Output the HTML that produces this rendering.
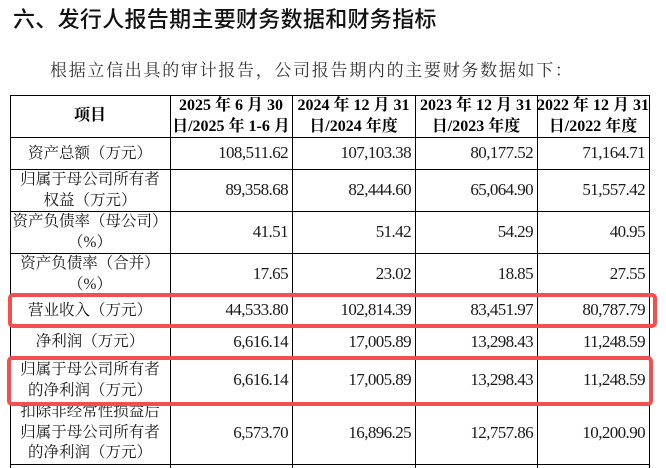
<!DOCTYPE html>
<html>
<head>
<meta charset="utf-8">
<style>
  html,body{margin:0;padding:0;background:#fff;}
  body{width:666px;height:468px;position:relative;overflow:hidden;}
  .title{position:absolute;left:13px;top:9px;font-family:"Liberation Sans","Noto Sans CJK SC",sans-serif;font-size:22px;line-height:22px;font-weight:500;color:#111;white-space:nowrap;letter-spacing:0.3px;}
  .sub{position:absolute;left:50px;top:62px;font-family:"Liberation Serif","Noto Serif CJK SC",serif;font-size:17px;line-height:17px;color:#333;white-space:nowrap;letter-spacing:1.7px;}
  .h{position:absolute;left:10px;width:640px;height:1px;background:#000;}
  .v{position:absolute;top:95px;width:1px;height:373px;background:#000;}
  .c{position:absolute;display:flex;align-items:center;justify-content:center;text-align:center;font-family:"Liberation Serif","Noto Serif CJK SC",serif;color:#1a1a1a;white-space:nowrap;box-sizing:border-box;}
  .lab{font-size:15.5px;line-height:21px;}
  .hd{font-size:16px;line-height:21.5px;font-weight:bold;color:#000;}
  .n{justify-content:flex-end;font-size:17px;letter-spacing:-0.6px;padding-right:4px;}
  .red{position:absolute;border:4.5px solid #f24f4f;border-radius:5px;box-sizing:border-box;}
</style>
</head>
<body>
<div class="title">六、发行人报告期主要财务数据和财务指标</div>
<div class="sub">根据立信出具的审计报告，公司报告期内的主要财务数据如下：</div>

<!-- horizontal lines -->
<div class="h" style="top:95px"></div>
<div class="h" style="top:137px"></div>
<div class="h" style="top:169px"></div>
<div class="h" style="top:211px"></div>
<div class="h" style="top:253px"></div>
<div class="h" style="top:295px"></div>
<div class="h" style="top:325px"></div>
<div class="h" style="top:358px"></div>
<div class="h" style="top:402px"></div>
<div class="h" style="top:464px"></div>
<!-- vertical lines -->
<div class="v" style="left:10px"></div>
<div class="v" style="left:170px"></div>
<div class="v" style="left:292px"></div>
<div class="v" style="left:415px"></div>
<div class="v" style="left:537px"></div>
<div class="v" style="left:649px"></div>

<!-- header -->
<div class="c hd" style="left:10px;top:95px;width:160px;height:42px;">项目</div>
<div class="c hd" style="left:170px;top:95px;width:122px;height:42px;">2025 年 6 月 30<br>日/2025 年 1-6 月</div>
<div class="c hd" style="left:292px;top:95px;width:123px;height:42px;">2024 年 12 月 31<br>日/2024 年度</div>
<div class="c hd" style="left:415px;top:95px;width:122px;height:42px;">2023 年 12 月 31<br>日/2023 年度</div>
<div class="c hd" style="left:537px;top:95px;width:112px;height:42px;">2022 年 12 月 31<br>日/2022 年度</div>

<!-- row 1 -->
<div class="c lab" style="left:10px;top:137px;width:160px;height:32px;">资产总额（万元）</div>
<div class="c n" style="left:170px;top:137px;width:122px;height:32px;">108,511.62</div>
<div class="c n" style="left:292px;top:137px;width:123px;height:32px;">107,103.38</div>
<div class="c n" style="left:415px;top:137px;width:122px;height:32px;">80,177.52</div>
<div class="c n" style="left:537px;top:137px;width:112px;height:32px;">71,164.71</div>

<!-- row 2 -->
<div class="c lab" style="left:10px;top:169px;width:160px;height:42px;">归属于母公司所有者<br>权益（万元）</div>
<div class="c n" style="left:170px;top:169px;width:122px;height:42px;">89,358.68</div>
<div class="c n" style="left:292px;top:169px;width:123px;height:42px;">82,444.60</div>
<div class="c n" style="left:415px;top:169px;width:122px;height:42px;">65,064.90</div>
<div class="c n" style="left:537px;top:169px;width:112px;height:42px;">51,557.42</div>

<!-- row 3 -->
<div class="c lab" style="left:10px;top:211px;width:160px;height:42px;">资产负债率（母公司）<br>（%）</div>
<div class="c n" style="left:170px;top:211px;width:122px;height:42px;">41.51</div>
<div class="c n" style="left:292px;top:211px;width:123px;height:42px;">51.42</div>
<div class="c n" style="left:415px;top:211px;width:122px;height:42px;">54.29</div>
<div class="c n" style="left:537px;top:211px;width:112px;height:42px;">40.95</div>

<!-- row 4 -->
<div class="c lab" style="left:10px;top:253px;width:160px;height:42px;">资产负债率（合并）<br>（%）</div>
<div class="c n" style="left:170px;top:253px;width:122px;height:42px;">17.65</div>
<div class="c n" style="left:292px;top:253px;width:123px;height:42px;">23.02</div>
<div class="c n" style="left:415px;top:253px;width:122px;height:42px;">18.85</div>
<div class="c n" style="left:537px;top:253px;width:112px;height:42px;">27.55</div>

<!-- row 5 -->
<div class="c lab" style="left:10px;top:295px;width:160px;height:30px;">营业收入（万元）</div>
<div class="c n" style="left:170px;top:295px;width:122px;height:30px;">44,533.80</div>
<div class="c n" style="left:292px;top:295px;width:123px;height:30px;">102,814.39</div>
<div class="c n" style="left:415px;top:295px;width:122px;height:30px;">83,451.97</div>
<div class="c n" style="left:537px;top:295px;width:112px;height:30px;">80,787.79</div>

<!-- row 6 -->
<div class="c lab" style="left:10px;top:325px;width:160px;height:33px;">净利润（万元）</div>
<div class="c n" style="left:170px;top:325px;width:122px;height:33px;">6,616.14</div>
<div class="c n" style="left:292px;top:325px;width:123px;height:33px;">17,005.89</div>
<div class="c n" style="left:415px;top:325px;width:122px;height:33px;">13,298.43</div>
<div class="c n" style="left:537px;top:325px;width:112px;height:33px;">11,248.59</div>

<!-- row 7 -->
<div class="c lab" style="left:10px;top:358px;width:160px;height:44px;">归属于母公司所有者<br>的净利润（万元）</div>
<div class="c n" style="left:170px;top:358px;width:122px;height:44px;">6,616.14</div>
<div class="c n" style="left:292px;top:358px;width:123px;height:44px;">17,005.89</div>
<div class="c n" style="left:415px;top:358px;width:122px;height:44px;">13,298.43</div>
<div class="c n" style="left:537px;top:358px;width:112px;height:44px;">11,248.59</div>

<!-- row 8 -->
<div class="c lab" style="left:10px;top:402px;width:160px;height:62px;line-height:20.5px;">扣除非经常性损益后<br>归属于母公司所有者<br>的净利润（万元）</div>
<div class="c n" style="left:170px;top:402px;width:122px;height:62px;">6,573.70</div>
<div class="c n" style="left:292px;top:402px;width:123px;height:62px;">16,896.25</div>
<div class="c n" style="left:415px;top:402px;width:122px;height:62px;">12,757.86</div>
<div class="c n" style="left:537px;top:402px;width:112px;height:62px;">10,200.90</div>

<!-- red highlight boxes -->
<div class="red" style="left:8px;top:293px;width:649px;height:35px;"></div>
<div class="red" style="left:7px;top:356px;width:646px;height:50px;"></div>
</body>
</html>
